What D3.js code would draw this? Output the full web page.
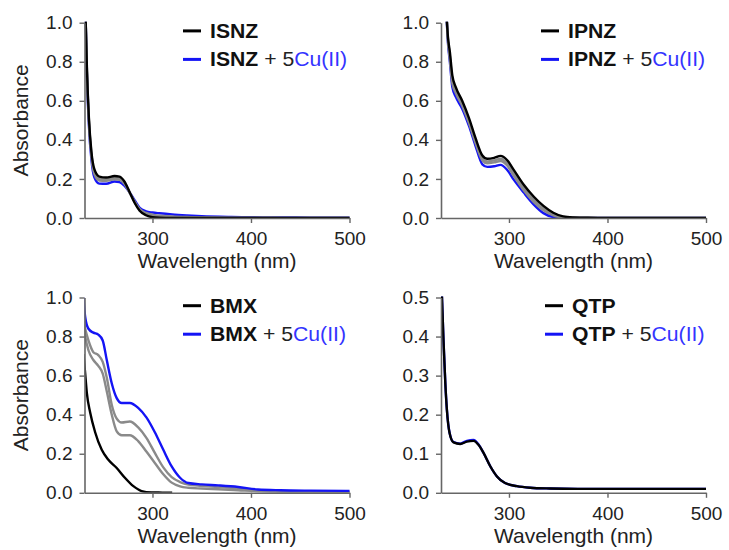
<!DOCTYPE html>
<html>
<head>
<meta charset="utf-8">
<script src="https://cdn.jsdelivr.net/npm/d3@7"></script>
<style>
body { margin: 0; background: #fff; }
text { font-family: "Liberation Sans", Arial, sans-serif; }
</style>
</head>
<body>
<div id="chart"></div>
<script>
//Width and height
var w = 729;
var h = 550;

// ISNZ - titration spectra (wavelength nm / absorbance)
var isnzWl    = [232, 233.5, 235.5, 238, 241, 246, 253, 261.5, 266.5, 271.5, 276.5, 282, 287, 293.5, 300, 307, 320, 335, 350, 380, 420, 460, 500];
var isnzFree  = [1.05, 0.76, 0.51, 0.34, 0.25, 0.212, 0.207, 0.215, 0.212, 0.187, 0.136, 0.077, 0.037, 0.014, 0.004, 0.001, 0, 0, 0, 0, 0, 0, 0];
var isnzGray1 = [1.05, 0.75, 0.50, 0.33, 0.235, 0.200, 0.197, 0.205, 0.203, 0.180, 0.134, 0.080, 0.042, 0.020, 0.010, 0.006, 0.003, 0.002, 0.001, 0, 0, 0, 0];
var isnzGray2 = [1.05, 0.74, 0.49, 0.32, 0.225, 0.192, 0.190, 0.198, 0.196, 0.175, 0.133, 0.083, 0.046, 0.026, 0.017, 0.012, 0.008, 0.005, 0.003, 0.002, 0.001, 0, 0];
var isnzCu    = [1.05, 0.72, 0.47, 0.30, 0.208, 0.176, 0.175, 0.187, 0.184, 0.165, 0.133, 0.090, 0.052, 0.034, 0.028, 0.024, 0.018, 0.013, 0.009, 0.005, 0.003, 0.002, 0.001];

// IPNZ
var ipnzWl    = [236.5, 238, 240, 242.5, 246, 252.5, 259.5, 266, 273, 278, 285, 291.5, 298, 305, 315, 325, 335, 345, 355, 365, 380, 420, 460, 500];
var ipnzFree  = [1.05, 0.93, 0.85, 0.73, 0.67, 0.60, 0.51, 0.41, 0.32, 0.303, 0.308, 0.318, 0.297, 0.245, 0.170, 0.110, 0.062, 0.027, 0.008, 0.003, 0.001, 0, 0, 0];
var ipnzGray1 = [1.05, 0.92, 0.83, 0.71, 0.655, 0.585, 0.495, 0.395, 0.305, 0.290, 0.295, 0.303, 0.280, 0.228, 0.155, 0.095, 0.050, 0.020, 0.006, 0.002, 0.001, 0, 0, 0];
var ipnzGray2 = [1.05, 0.91, 0.815, 0.69, 0.64, 0.575, 0.485, 0.385, 0.295, 0.280, 0.285, 0.292, 0.270, 0.215, 0.142, 0.083, 0.040, 0.014, 0.003, 0.001, 0, 0, 0, 0];
var ipnzCu    = [1.05, 0.90, 0.80, 0.67, 0.62, 0.56, 0.47, 0.37, 0.275, 0.262, 0.265, 0.272, 0.247, 0.195, 0.130, 0.070, 0.025, 0.005, 0, 0, 0, 0, 0, 0];

// BMX
var bmxFreeWl = [230, 231.7, 233.4, 236.8, 241.8, 248.5, 255, 263.7, 272, 280.6, 289, 299, 310, 320];
var bmxFree   = [0.71, 0.61, 0.51, 0.41, 0.31, 0.22, 0.17, 0.127, 0.077, 0.034, 0.009, 0.002, 0.001, 0];
var bmxWl     = [230, 231.7, 235, 240, 245, 249.5, 253.6, 258.7, 263.7, 268.8, 277, 285.5, 294, 302.4, 311, 319.5, 328, 336.4, 350, 366.8, 387, 407, 430, 460, 500];
var bmxGray1  = [0.86, 0.80, 0.73, 0.68, 0.65, 0.61, 0.52, 0.40, 0.315, 0.295, 0.295, 0.265, 0.21, 0.153, 0.095, 0.052, 0.033, 0.026, 0.022, 0.018, 0.013, 0.008, 0.005, 0.004, 0.003];
var bmxGray2  = [0.88, 0.84, 0.78, 0.72, 0.705, 0.67, 0.59, 0.45, 0.38, 0.36, 0.365, 0.335, 0.28, 0.204, 0.13, 0.08, 0.055, 0.042, 0.036, 0.03, 0.022, 0.012, 0.008, 0.006, 0.005];
var bmxCu     = [1.0, 0.90, 0.84, 0.82, 0.81, 0.78, 0.68, 0.56, 0.485, 0.46, 0.46, 0.435, 0.385, 0.31, 0.22, 0.135, 0.077, 0.05, 0.043, 0.038, 0.03, 0.017, 0.013, 0.011, 0.01];

// QTP
var qtpWl   = [231, 232, 233.7, 235.4, 237, 239.7, 243.7, 250.5, 257.3, 264, 269, 274.2, 281, 287.8, 296, 308, 321.5, 341.8, 370, 400, 450, 500];
var qtpFree = [0.6, 0.5, 0.38, 0.28, 0.212, 0.153, 0.129, 0.125, 0.131, 0.133, 0.123, 0.102, 0.068, 0.042, 0.025, 0.017, 0.013, 0.011, 0.010, 0.010, 0.010, 0.010];
var qtpCu   = [0.6, 0.5, 0.38, 0.28, 0.212, 0.154, 0.130, 0.126, 0.133, 0.135, 0.124, 0.102, 0.068, 0.042, 0.025, 0.017, 0.013, 0.011, 0.010, 0.010, 0.010, 0.010];

var xTicks = [300, 400, 500];
var yTicks1 = [0, 0.2, 0.4, 0.6, 0.8, 1.0];
var yTicks05 = [0, 0.1, 0.2, 0.3, 0.4, 0.5];

var black = "#000";
var blue = "#1414f5";
var gray = "#8a8a8a";

var panels = [
	{ name: "ISNZ", left: 84.5, top: 22.7, yMax: 1, yTicks: yTicks1, yLabel: true, legX: 183,
	  series: [[isnzWl, isnzCu, blue], [isnzWl, isnzGray2, gray], [isnzWl, isnzGray1, gray], [isnzWl, isnzFree, black]] },
	{ name: "IPNZ", left: 441, top: 22.7, yMax: 1, yTicks: yTicks1, yLabel: false, legX: 541,
	  series: [[ipnzWl, ipnzCu, blue], [ipnzWl, ipnzGray2, gray], [ipnzWl, ipnzGray1, gray], [ipnzWl, ipnzFree, black]] },
	{ name: "BMX", left: 84.5, top: 297.5, yMax: 1, yTicks: yTicks1, yLabel: true, legX: 183,
	  series: [[bmxWl, bmxGray1, gray], [bmxWl, bmxGray2, gray], [bmxWl, bmxCu, blue], [bmxFreeWl, bmxFree, black]] },
	{ name: "QTP", left: 441, top: 297.5, yMax: 0.5, yTicks: yTicks05, yLabel: false, legX: 545,
	  series: [[qtpWl, qtpCu, blue], [qtpWl, qtpFree, black]] }
];

var pw = 265;
var ph = 195.3;

//Create SVG element
var svg = d3.select("#chart")
			.append("svg")
			.attr("width", w)
			.attr("height", h);

panels.forEach(function(p, k) {
	var x = d3.scaleLinear().domain([231, 500]).range([p.left, p.left + pw]);
	var y = d3.scaleLinear().domain([0, p.yMax]).range([p.top + ph, p.top]);
	var g = svg.append("g");

	g.append("clipPath")
		.attr("id", "clip" + k)
		.append("rect")
		.attr("x", p.left)
		.attr("y", p.top - 1)
		.attr("width", pw + 2)
		.attr("height", ph + 1);

	var line = d3.line()
		.x(function(d) { return x(d[0]); })
		.y(function(d) { return y(d[1]); })
		.curve(d3.curveMonotoneX);

	p.series.forEach(function(s) {
		var pts = s[0].map(function(v, i) { return [v, s[1][i]]; });
		g.append("path")
			.datum(pts)
			.attr("clip-path", "url(#clip" + k + ")")
			.attr("d", line)
			.attr("fill", "none")
			.attr("stroke", s[2])
			.attr("stroke-width", 2.4);
	});

	var ya = g.append("g")
		.attr("transform", "translate(" + p.left + ",0)")
		.call(d3.axisLeft(y).tickValues(p.yTicks).tickFormat(d3.format(".1f")).tickSize(5).tickSizeOuter(0).tickPadding(7));
	var xa = g.append("g")
		.attr("transform", "translate(0," + (p.top + ph) + ")")
		.call(d3.axisBottom(x).tickValues(xTicks).tickSize(5).tickSizeOuter(0).tickPadding(9));

	[ya, xa].forEach(function(a) {
		a.select(".domain").attr("stroke", "#666").attr("stroke-width", 1.6);
		a.selectAll(".tick line").attr("stroke", "#666").attr("stroke-width", 1.4);
		a.selectAll(".tick text")
			.attr("font-family", "Liberation Sans, Arial, sans-serif")
			.attr("font-size", "19px")
			.attr("fill", "#222");
	});

	g.append("text")
		.attr("x", p.left + pw / 2)
		.attr("y", p.top + ph + 50)
		.attr("text-anchor", "middle")
		.attr("font-size", "21px")
		.attr("fill", "#222")
		.text("Wavelength (nm)");

	if (p.yLabel) {
		g.append("text")
			.attr("transform", "translate(28," + (p.top + ph / 2) + ") rotate(-90)")
			.attr("text-anchor", "middle")
			.attr("font-size", "21px")
			.attr("fill", "#222")
			.text("Absorbance");
	}

	// legend
	var ly = [p.top + 8.2, p.top + 36.7];
	[black, blue].forEach(function(c, i) {
		g.append("line")
			.attr("x1", p.legX)
			.attr("x2", p.legX + 18)
			.attr("y1", ly[i])
			.attr("y2", ly[i])
			.attr("stroke", c)
			.attr("stroke-width", 3);
	});
	var tx = p.legX + 27;
	g.append("text")
		.attr("transform", "translate(" + tx + "," + (ly[0] + 7) + ") scale(1.06,1)")
		.attr("font-size", "20px")
		.attr("font-weight", "bold")
		.attr("fill", "#111")
		.text(p.name);
	var t = g.append("text")
		.attr("transform", "translate(" + tx + "," + (ly[1] + 7) + ") scale(1.06,1)")
		.attr("font-size", "20px")
		.attr("fill", "#222");
	t.append("tspan").attr("font-weight", "bold").attr("fill", "#111").text(p.name);
	t.append("tspan").text(" + 5");
	t.append("tspan").attr("fill", "#3434ff").text("Cu(II)");
});
</script>
</body>
</html>
